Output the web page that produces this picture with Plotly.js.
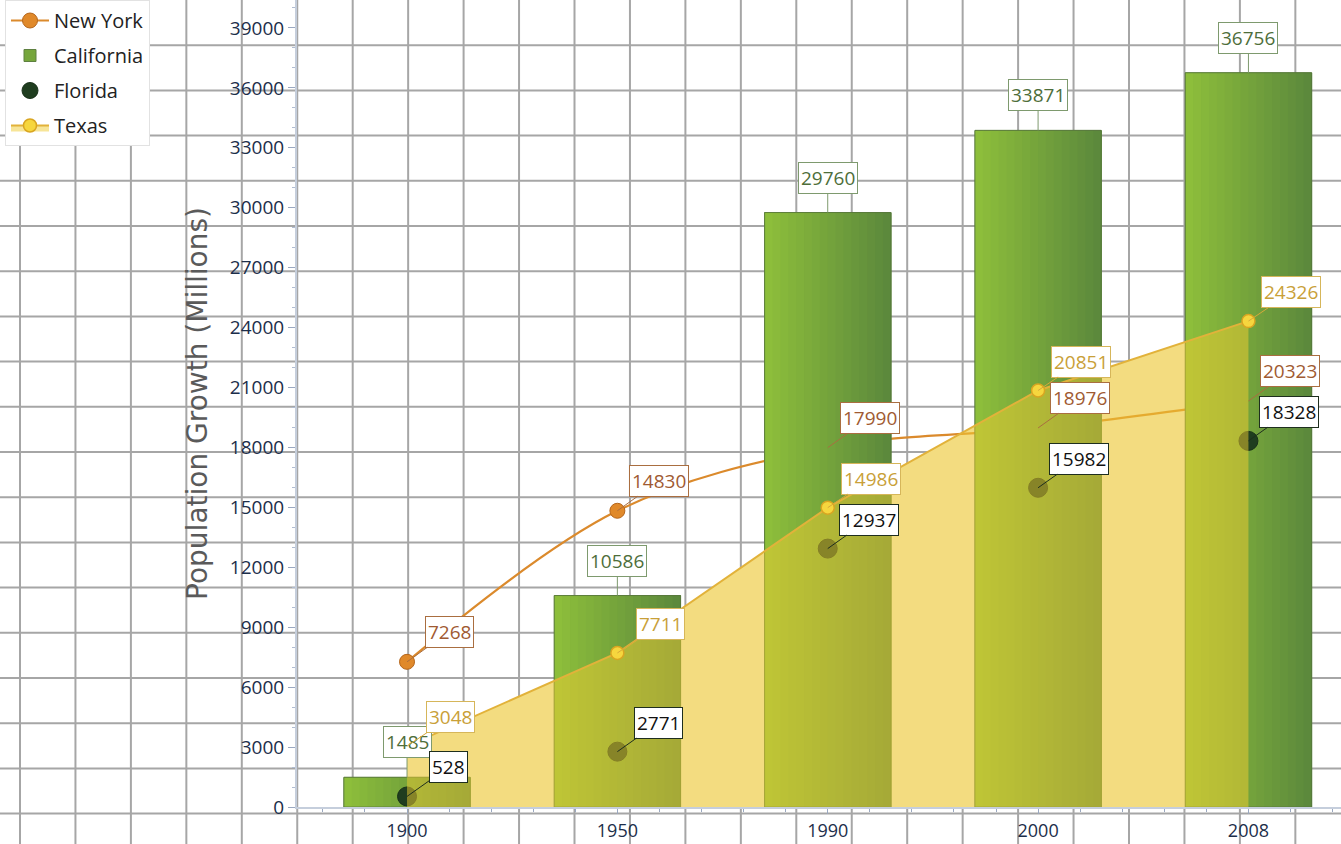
<!DOCTYPE html>
<html><head><meta charset="utf-8">
<script src="https://cdn.plot.ly/plotly-3.0.1.min.js"></script>
<style>html,body{margin:0;padding:0;background:#fff}#chart{width:1341px;height:844px}</style>
</head><body><div id="chart"></div>
<script>
// ---- data ----
const years = ['1900', '1950', '1990', '2000', '2008'];
const newYork = [7268, 14830, 17990, 18976, 20323];
const california = [1485, 10586, 29760, 33871, 36756];
const florida = [528, 2771, 12937, 15982, 18328];
const texas = [3048, 7711, 14986, 20851, 24326];

// ---- layout constants ----
const W = 1341, H = 844;
const FONT = 'Open Sans, Liberation Sans, sans-serif';
const xIdx = years.map((_, i) => i);
const xRange = [-0.523, 4.44];
const yRange = [0, 40400];
const BAR_W = 0.6;

const traces = [];
// bottom layer: opaque pale fill under Texas + New York line (below bars)
traces.push({type:'scatter', x:xIdx, y:texas, mode:'none', fill:'tozeroy',
  fillcolor:'rgb(246,236,206)', showlegend:false, hoverinfo:'skip', xaxis:'x', yaxis:'y'});
traces.push({type:'scatter', name:'New York', x:xIdx, y:newYork, mode:'lines+markers',
  line:{shape:'spline', color:'#DB8A2C', width:2.2},
  marker:{size:15, color:'#E0892A', line:{color:'#B5651A', width:1}},
  legendgroup:'ny', xaxis:'x', yaxis:'y'});

// California bars (legend entry + gradient strips + outline)
traces.push({type:'bar', name:'California', x:xIdx, y:california, width:BAR_W,
  marker:{color:'#76A63C', line:{color:'#5E8040', width:1}}, legendgroup:'ca',
  xaxis:'x2', yaxis:'y2'});
const N = 16;
const c0 = [141,190,59], c1 = [92,137,60];
for (let k = 0; k < N; k++) {
  const t = k / (N - 1);
  const c = c0.map((v, j) => Math.round(v + (c1[j] - v) * t));
  traces.push({type:'bar', x:xIdx, y:california, width:BAR_W / N * 1.08,
    offset:-BAR_W / 2 + k * BAR_W / N,
    marker:{color:`rgb(${c.join(',')})`, line:{width:0}},
    showlegend:false, hoverinfo:'skip', xaxis:'x2', yaxis:'y2'});
}
traces.push({type:'bar', x:xIdx, y:california, width:BAR_W,
  marker:{color:'rgba(0,0,0,0)', line:{color:'rgba(85,115,60,0.7)', width:1}},
  showlegend:false, hoverinfo:'skip', xaxis:'x2', yaxis:'y2'});

// Florida markers (under the translucent Texas area)
traces.push({type:'scatter', name:'Florida', x:xIdx, y:florida, mode:'markers',
  marker:{size:19, color:'#1F3D1F', line:{color:'#183018', width:1}},
  legendgroup:'fl', xaxis:'x2', yaxis:'y2'});

// Texas translucent area
traces.push({type:'scatter', name:'Texas', x:xIdx, y:texas, mode:'lines+markers',
  fill:'tozeroy', fillcolor:'rgba(240,204,50,0.5)',
  line:{color:'#E2B23A', width:2},
  marker:{size:13, color:'#F6D63E', line:{color:'#D9A521', width:1.5}},
  legendgroup:'tx', xaxis:'x2', yaxis:'y2'});

// ---- annotations ----
const annotations = [];
function addLabels(vals, opts) {
  vals.forEach((v, i) => {
    annotations.push({x:i, y:v, xref:'x2', yref:'y2', text:String(v),
      showarrow:true, arrowhead:0, arrowwidth:1, arrowcolor:opts.arrow,
      ax:opts.ax, ay:opts.ay, standoff:0,
      bgcolor:'#ffffff', bordercolor:opts.border, borderwidth:1, borderpad:2,
      font:{family:FONT, size:19, color:opts.color}});
  });
}
addLabels(california, {ax:0, ay:-35, color:'#4E6E3A', border:'#7E9A6E', arrow:'#7E9A6E'});
addLabels(newYork, {ax:42, ay:-30, color:'#A05A32', border:'#AA6E40', arrow:'#AA6E40'});
addLabels(texas, {ax:43, ay:-29, color:'#C9A038', border:'#D6B65A', arrow:'#D6A93A'});
addLabels(florida, {ax:41, ay:-29, color:'#111111', border:'#1E2E1E', arrow:'#1E2E1E'});

// ---- page background grid ----
const shapes = [];
for (let px = 20; px <= W; px += 55.45) {
  shapes.push({type:'line', xref:'paper', yref:'paper', x0:px / W, x1:px / W, y0:0, y1:1,
    line:{color:'#A6A6A6', width:2}, layer:'below'});
}
for (let py = 45.2; py <= H; py += 45.2) {
  shapes.push({type:'line', xref:'paper', yref:'paper', x0:0, x1:1, y0:1 - py / H, y1:1 - py / H,
    line:{color:'#A6A6A6', width:2}, layer:'below'});
}

const tickFont = {family:FONT, size:19, color:'#1C2E4A'};
const layout = {
  width:W, height:H,
  margin:{l:0, r:0, t:0, b:0, pad:0},
  paper_bgcolor:'#ffffff', plot_bgcolor:'rgba(0,0,0,0)',
  font:{family:FONT},
  barmode:'overlay',
  showlegend:true,
  legend:{x:5 / W, y:1, xanchor:'left', yanchor:'top', bgcolor:'#ffffff',
    bordercolor:'#E2E2E2', borderwidth:1, tracegroupgap:6, traceorder:'grouped',
    itemwidth:38,
    font:{family:FONT, size:20, color:'#222222'}},
  xaxis:{domain:[297 / W, 1], range:xRange, tickmode:'array', tickvals:xIdx, ticktext:years,
    ticks:'outside', ticklen:5, tickcolor:'#9AA8C0', showline:true, linecolor:'#C5CEDC', linewidth:2,
    showgrid:false, zeroline:false, tickfont:{family:FONT, size:18, color:'#1C2E4A'}, ticklabelstandoff:1,
    minor:{dtick:0.2, tick0:0, ticks:'outside', ticklen:3, tickcolor:'#9AA8C0', showgrid:false}},
  yaxis:{domain:[37 / H, 1], range:yRange, tick0:0, dtick:3000, tickformat:'d',
    ticks:'outside', ticklen:7, tickcolor:'#9AA8C0', showline:true, linecolor:'#C5CEDC', linewidth:2,
    showgrid:false, zeroline:false, tickfont:tickFont,
    minor:{dtick:1000, ticks:'outside', ticklen:3, tickcolor:'#B0BCD0', showgrid:false},
    title:{text:'Population Growth (Millions)', font:{family:'DejaVu Sans, Verdana, sans-serif', size:28, color:'#5A5A5A'}, standoff:14}},
  xaxis2:{overlaying:'x', range:xRange, visible:false},
  yaxis2:{overlaying:'y', range:yRange, visible:false},
  annotations:annotations,
  shapes:shapes
};

Plotly.newPlot('chart', traces, layout, {displayModeBar:false, staticPlot:true});
</script>
</body></html>
